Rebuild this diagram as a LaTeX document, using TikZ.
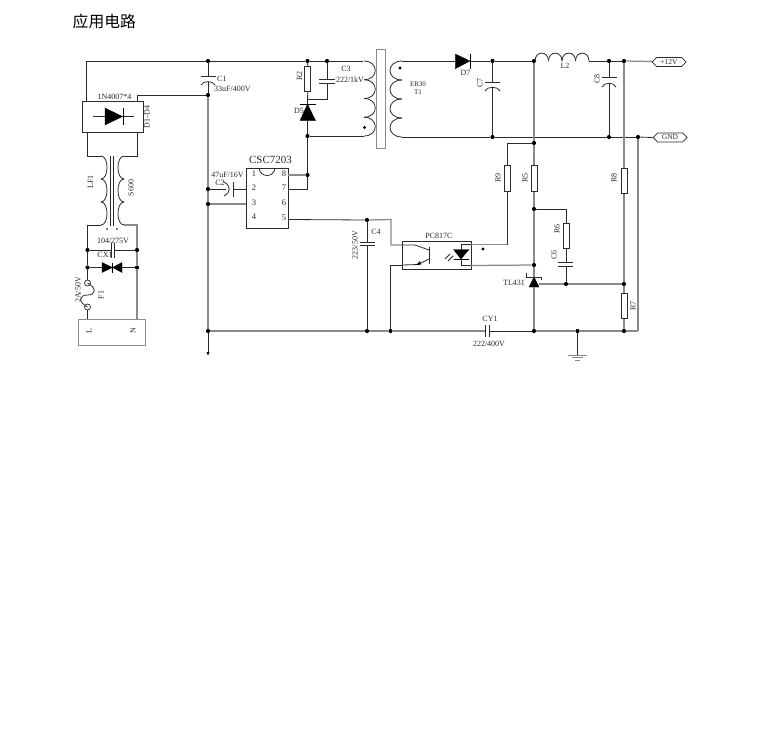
\documentclass[tikz,border=0pt]{standalone}
\usepackage{fontspec}
\setmainfont{Liberation Serif}
\newfontfamily\cjk{Noto Sans CJK SC}
\usetikzlibrary{shapes.symbols}
\definecolor{ink}{HTML}{2B2B2B}
\definecolor{gw}{HTML}{8A8A8A}
\tikzset{
  wire/.style={draw=ink,line width=0.8pt},
  gwire/.style={draw=gw,line width=1.25pt},
  jn/.style={circle,fill=black,inner sep=0pt,minimum size=4.2pt},
  res/.style={draw=ink,line width=0.7pt,fill=white,inner sep=0pt,minimum width=6pt,minimum height=25.5pt},
  lab/.style={font=\fontsize{8}{8}\selectfont,text=ink,inner sep=0pt},
  vlab/.style={lab,rotate=90},
  pin/.style={font=\fontsize{8.5}{8.5}\selectfont,text=ink,inner sep=0pt},
  tag/.style={signal,signal to=east and west,draw=ink,line width=0.7pt,inner sep=0pt,minimum width=34pt,minimum height=9pt,font=\fontsize{7.5}{7.5}\selectfont,text=ink},
  solid black/.style={fill=black,draw=black,line width=0.3pt}
}
% vertical coil: x, ytop, bump height, count, bulge control
\newcommand{\vcoil}[5]{\foreach \i in {1,...,#4}{
  \pgfmathsetmacro\ya{#2+(\i-1)*#3}\pgfmathsetmacro\yb{#2+\i*#3}
  \draw[wire] (#1,\ya) .. controls (#1+#5,\ya) and (#1+#5,\yb) .. (#1,\yb);}}
\newcommand{\hcoil}[5]{\foreach \i in {1,...,#4}{
  \pgfmathsetmacro\xa{#1+(\i-1)*#3}\pgfmathsetmacro\xb{#1+\i*#3}
  \draw[wire] (\xa,#2) .. controls (\xa,#2+#5) and (\xb,#2+#5) .. (\xb,#2);}}
\begin{document}
\begin{tikzpicture}[x=1pt,y=-1pt]
\useasboundingbox (0,0) rectangle (757,734);
\fill[white] (0,0) rectangle (757,734);
\node[anchor=west,inner sep=0pt,font=\cjk\fontsize{15.8}{15.8}\selectfont] (title) at (72.5,21.5) {应用电路};

% junctions
\node[jn] (jTop) at (208,61) {};
\node[jn] (jC1) at (208,95) {};
\node[jn] (jC2) at (208,189) {};
\node[jn] (jP3) at (208,204) {};
\node[jn] (jBot) at (208,331) {};
\node[jn] (jR2) at (307.5,61) {};
\node[jn] (jC3) at (327,61) {};
\node[jn] (jD5) at (307.5,136) {};
\node[jn] (jP8) at (307.5,175) {};
\node[jn] (jC4) at (367,220) {};
\node[jn] (jC4b) at (367,331) {};
\node[jn] (jOp) at (390.5,331) {};
\node[jn] (jC7) at (492.5,61) {};
\node[jn] (jC7b) at (492.5,137) {};
\node[jn] (jL2) at (534,61) {};
\node[jn] (jR9) at (534,143) {};
\node[jn] (jR6) at (534,209) {};
\node[jn] (jTL) at (534,265) {};
\node[jn] (jTLb) at (534,331) {};
\node[jn] (jC8) at (609,61) {};
\node[jn] (jR8) at (624,61) {};
\node[jn] (jC8b) at (609,137) {};
\node[jn] (jG) at (638,137) {};
\node[jn] (jC6) at (566,284) {};
\node[jn] (jR7) at (624,284) {};
\node[jn] (jR7b) at (624,331) {};
\node[jn] (jGnd) at (577.5,331) {};
\node[jn] (jX1) at (87.5,250) {};
\node[jn] (jX2) at (137,250) {};
\node[jn] (jV1) at (87.5,267.5) {};
\node[jn] (jV2) at (137,267.5) {};

% bridge
\node[draw=ink,line width=0.7pt,minimum width=61pt,minimum height=31pt,inner sep=0pt] (BR) at (112.5,116.5) {};
\draw[wire] (93,116.5) -- (134,116.5);
\fill[solid black] (105,108) -- (105,125) -- (122.5,116.5) -- cycle;
\draw[black,line width=1pt] (123,108) -- (123,125);
\node[lab] (t1n) at (114.5,96.5) {1N4007*4};
\node[vlab] (tD14) at (147,117) {D1-D4};

% top rail and C1
\draw[wire] (BR.north west -| 86,101) -- (86,61) -- (jTop) -- (jR2) -- (jC3) -- (363,61);
\draw[wire] (jTop) -- (208,76);
\draw[wire] (jC1) -- (208,82);
\draw[wire] (200.5,76) -- (215.5,76);
\draw[wire] (201,85) .. controls (203,80.5) and (213,80.5) .. (215,85);
\draw[wire] (jC1) -- (137,95) -- (137,101);
\node[lab,anchor=west] (tC1) at (217,79) {C1};
\node[lab,anchor=west] (tC1v) at (214,88.5) {33uF/400V};

% main left rail
\draw[gwire] (jC1) -- (jC2) -- (jP3) -- (jBot);
\draw[wire] (jBot) -- (208,354);
\fill[black] (206.5,352) -- (209.5,352) -- (208,355.5) -- cycle;

% common mode choke
\draw[wire] (87.5,132) -- (87.5,156) -- (101,156);
\draw[wire] (137,132) -- (137,156) -- (124,156);
\vcoil{101}{156}{23}{3}{8}
\vcoil{124}{156}{23}{3}{-8}
\draw[wire] (110.5,156) -- (110.5,226);
\draw[wire] (113,156) -- (113,226);
\node[vlab] (tLF) at (90.5,182) {LF1};
\node[vlab] (tS) at (131,188) {S600};
\fill (107,229) circle (0.8pt) (117,229) circle (0.8pt);
\draw[wire] (101,225) -- (87.5,225) -- (jX1) -- (jV1) -- (87.5,280);
\draw[gwire] (124,225) -- (137,225) -- (jX2) -- (jV2) -- (137,319);
\node[lab] (t104) at (113,241) {104/275V};
\draw[wire] (jX1) -- (111.5,250);
\draw[wire] (114.5,250) -- (jX2);
\draw[wire] (111.5,243) -- (111.5,258);
\draw[wire] (114.5,243) -- (114.5,258);
\node[lab] (tCX) at (105,255) {CX1};
% TVS
\draw[wire] (jV1) -- (jV2);
\fill[solid black] (102,262.5) -- (102,272.5) -- (112.5,267.5) -- cycle;
\fill[solid black] (122,262.5) -- (122,272.5) -- (112.5,267.5) -- cycle;
\draw[black,line width=0.8pt] (112.5,262.5) -- (112.5,272.5);
% fuse
\node[circle,draw=ink,line width=0.7pt,fill=white,minimum size=6pt,inner sep=0pt] (Fa) at (87.5,283) {};
\node[circle,draw=ink,line width=0.7pt,fill=white,minimum size=6pt,inner sep=0pt] (Fb) at (87.5,307) {};
\draw[wire] (Fa.center) .. controls (97,288) and (96,295) .. (87.5,295) .. controls (79,295) and (78,302) .. (Fb.center);
\draw[wire] (Fb) -- (87.5,319);
\node[vlab] (t2A) at (78,290) {2A/50V};
\node[vlab] (tF) at (101,295) {F1};
\node[draw=gw,line width=0.9pt,minimum width=67pt,minimum height=26pt,inner sep=0pt] (AC) at (112.25,332) {};
\node[vlab] (tL) at (89,331) {L};
\node[vlab] (tN) at (133,331) {N};

% R2 D5 C3
\node[res] (R2) at (307.7,79) {};
\draw[wire] (jR2) -- (R2.north);
\draw[wire] (R2.south) -- (307.5,104);
\draw[black,line width=1pt] (299.5,104) -- (316,104);
\fill[solid black] (307.5,104) -- (300,120.5) -- (315.5,120.5) -- cycle;
\draw[wire] (307.5,120.5) -- (jD5) -- (jP8);
\draw[wire] (jC3) -- (327,79);
\draw[wire] (327,83) -- (327,99) -- (307.5,99);
\draw[wire] (319,79) -- (335,79);
\draw[wire] (319,83) -- (335,83);
\node[vlab] (tR2) at (299.5,76) {R2};
\node[lab] (tD5) at (299,111) {D5};
\node[lab] (tC3) at (346,69) {C3};
\node[lab] (tC3v) at (350,80) {222/1kV};
% transformer
\draw[wire] (jD5) -- (364,136);
\vcoil{364}{61}{18.75}{4}{15}
\node[draw=gw,line width=1pt,minimum width=9pt,minimum height=99pt,inner sep=0pt] (Core) at (381.2,98.5) {};
\vcoil{402}{61}{19}{4}{-16}
\fill (364.5,127.5) circle (1.6pt) (400,68) circle (1.6pt);
\node[lab,font=\fontsize{7}{7}\selectfont] (tT1a) at (418,84) {ER30};
\node[lab,font=\fontsize{7}{7}\selectfont] (tT1b) at (418,92.5) {T1};

% chip
\node[draw=ink,line width=0.8pt,minimum width=42pt,minimum height=60pt,inner sep=0pt] (IC) at (267,198) {};
\draw[wire] (259,168) .. controls (260,178) and (274,178) .. (275,168);
\node[lab,font=\fontsize{11}{11}\selectfont] (tIC) at (270.5,160) {CSC7203};
\foreach \n/\x/\y in {1/254/174,2/254/188,3/254/203,4/254/217,8/284/174,7/284/188,6/284/203,5/284/218}
  \node[pin] (p\n) at (\x,\y) {\n};
\draw[gwire] (288,175) -- (jP8);
\draw[wire] (jP8) -- (307.5,189) -- (288,189);
\draw[wire] (246,189) -- (233,189);
\draw[wire] (233,181.5) -- (233,196.5);
\draw[wire] (jC2) -- (226,189);
\draw[wire] (224,182) .. controls (231,186) and (231,192) .. (224,196);
\node[lab] (tC2v) at (227.5,175) {47uF/16V};
\node[lab] (tC2) at (220,183) {C2};
\draw[gwire] (jP3) -- (246,204);

% pin 5 and C4
\draw[wire] (288,219.5) -- (jC4);
\draw[gwire] (jC4) -- (391,219.5) -- (391,245) -- (402,245);
\draw[wire] (jC4) -- (367,242);
\draw[wire] (367,245) -- (jC4b);
\draw[wire] (360,242) -- (375,242);
\draw[wire] (360,245) -- (375,245);
\node[lab] (tC4) at (376,232) {C4};
\node[vlab] (tC4v) at (355,245) {223/50V};

% optocoupler
\node[draw=ink,line width=0.7pt,minimum width=69pt,minimum height=27.5pt,inner sep=0pt] (OP) at (436.5,255.3) {};
\node[lab] (tOP) at (439,236) {PC817C};
\draw[wire] (402,245) -- (415,245) -- (429,250);
\draw[wire] (429,247) -- (429,264);
\draw[wire] (429,259) -- (418,264.5) -- (402,265);
\fill (416,265) -- (420,261) -- (421,264.5) -- cycle;
\draw[wire] (402,265) -- (390.5,265) -- (jOp);
\fill[solid black] (453.5,249.5) -- (469,249.5) -- (461,259) -- cycle;
\draw[black,line width=1pt] (453.5,259.5) -- (469,259.5);
\draw[wire] (445,259) -- (450,254);
\draw[wire] (448,261) -- (453,256);
\draw[wire] (461,249.5) -- (461,244.5) -- (471,244.5);
\draw[wire] (461,259.5) -- (461,265.5) -- (471,265.5);
\fill (483,249) circle (1.6pt);
\draw[gwire] (471,244.5) -- (507.7,244.5);
\node[res] (R9) at (507.7,178.5) {};
\draw[wire] (507.7,244.5) -- (R9.south);
\draw[wire] (R9.north) -- (507.7,143) -- (jR9);
\draw[gwire] (471,265.5) -- (jTL);
\node[vlab] (tR9) at (498,178) {R9};

% bottom rail
\draw[gwire] (jBot) -- (jC4b) -- (jOp) -- (485.7,331);
\draw[wire] (489,331) -- (jTLb);
\draw[gwire] (jTLb) -- (jGnd) -- (jR7b) -- (638,331);
\draw[wire] (485.7,325) -- (485.7,337);
\draw[wire] (489,325) -- (489,337);
\node[lab] (tCY) at (490,319) {CY1};
\node[lab] (tCYv) at (489,344) {222/400V};
\draw[gwire] (638,331) -- (jG);

% secondary
\draw[wire] (402,137) -- (jC7b) -- (jC8b) -- (jG);
\draw[wire] (402,61) -- (455,61);
\fill[solid black] (455.3,54) -- (455.3,68.7) -- (470,61) -- cycle;
\draw[black,line width=0.8pt] (470.5,54) -- (470.5,69);
\node[lab] (tD7) at (465.5,73) {D7};
\draw[wire] (470.5,61) -- (jC7) -- (jL2) -- (535,61);
\hcoil{535}{61}{13.5}{4}{-10.5}
\draw[wire] (589,61) -- (jC8) -- (jR8);
\draw[gwire] (jR8) -- (652,61.5);
\node[lab] (tL2) at (565,66) {L2};
\node[tag] (p12) at (669,62) {+12V};
\node[tag] (pG) at (670,137.5) {GND};
\draw[wire] (jG) -- (pG.west);
% C7
\draw[wire] (jC7) -- (492.5,82);
\draw[wire] (492.5,87) -- (jC7b);
\draw[wire] (485,82) -- (500,82);
\draw[wire] (485,91) .. controls (487,86) and (498,86) .. (500,91);
\node[vlab] (tC7) at (480,83) {C7};
% C8
\draw[wire] (jC8) -- (609,77.7);
\draw[wire] (609,83) -- (jC8b);
\draw[wire] (601.5,77.7) -- (616.5,77.7);
\draw[wire] (602,87) .. controls (604,82) and (614,82) .. (616,87);
\node[vlab] (tC8) at (597,79) {C8};

% R5 column
\draw[gwire] (jL2) -- (jR9);
\node[res] (R5) at (534,178.5) {};
\draw[gwire] (jR9) -- (R5.north);
\draw[gwire] (R5.south) -- (jR6) -- (jTL) -- (534,277);
\node[vlab] (tR5) at (525,178) {R5};
\draw[wire] (jR6) -- (566,209) -- (566,223);
\node[res] (R6) at (566,235.7) {};
\node[vlab] (tR6) at (557,229) {R6};
\draw[wire] (R6.south) -- (566,262.7);
\draw[wire] (558,262.7) -- (573,262.7);
\draw[wire] (558,266.7) -- (573,266.7);
\draw[wire] (566,266.7) -- (jC6);
\node[vlab] (tC6) at (554,255) {C6};
% TL431
\fill[solid black] (534,277) -- (529,287) -- (539,287) -- cycle;
\draw[wire] (526,272.5) -- (526,277) -- (541.7,277) -- (541.7,280);
\node[lab] (tTL) at (514,283) {TL431};
\draw[gwire] (539,284) -- (jC6) -- (jR7);
\draw[gwire] (534,287) -- (jTLb);
% R8 R7
\draw[gwire] (jR8) -- (624,168);
\node[res] (R8) at (624,181) {};
\node[vlab] (tR8) at (614,178) {R8};
\draw[gwire] (R8.south) -- (jR7);
\node[res] (R7) at (624,306) {};
\draw[gwire] (jR7) -- (R7.north);
\draw[gwire] (R7.south) -- (jR7b);
\node[vlab] (tR7) at (633,306) {R7};
% ground
\draw[wire] (jGnd) -- (577.5,355);
\draw[gw,line width=1pt] (568,355) -- (587,355);
\draw[gw,line width=1pt] (572,357.5) -- (583,357.5);
\draw[gw,line width=1pt] (575,360) -- (580,360);
\end{tikzpicture}
\end{document}
